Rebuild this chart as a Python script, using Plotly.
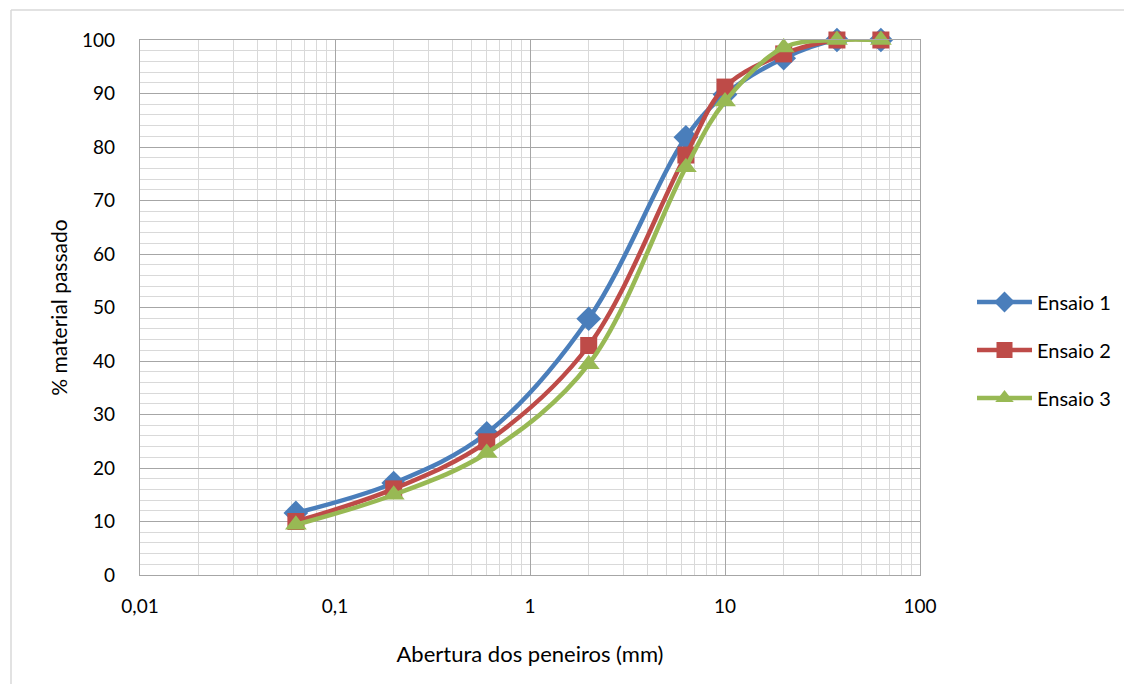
import plotly.graph_objects as go

aberturas = [0.063, 0.2, 0.6, 2.0, 6.3, 10.0, 20.0, 37.5, 63.0]
ensaio1 = [11.6, 17.2, 26.5, 47.9, 81.8, 89.8, 96.6, 100, 100]
ensaio2 = [10.0, 16.1, 24.9, 42.9, 78.5, 91.2, 97.4, 100, 100]
ensaio3 = [9.4, 15.0, 22.8, 39.4, 76.2, 88.5, 98.6, 100, 100]

x_tickvals = [0.01, 0.1, 1, 10, 100]
x_ticktext = ["0,01", "0,1", "1", "10", "100"]

series = [
    ("Ensaio 1", ensaio1, "#4A7EBB", "diamond", 19),
    ("Ensaio 2", ensaio2, "#BE4B48", "square", 17),
    ("Ensaio 3", ensaio3, "#98B954", "triangle-up", 19),
]

FONT = "Lato, Open Sans, sans-serif"

# page body has an 8px margin; compensate so plot area sits at x 140-920, y 40-575
OFF = 8
L, T = 140 - OFF, 40 - OFF
PW, PH = 780, 535
R = 1132 - L - PW
B = 684 - T - PH

fig = go.Figure()
for name, vals, color, sym, size in series:
    fig.add_trace(go.Scatter(
        x=aberturas, y=vals, name=name, mode="lines+markers",
        legendgroup=name, cliponaxis=False,
        line=dict(color=color, width=4.5, shape="spline", smoothing=1.0),
        marker=dict(symbol=sym, size=size, color=color),
    ))

minor_x = [m * 10 ** e for e in range(-2, 2) for m in range(2, 10)]

def px_x(px):
    return (px - OFF - L) / PW

def px_y(py):
    return (T + PH - (py - OFF)) / PH

fig.update_layout(
    width=1132, height=684,
    margin=dict(l=L, r=R, t=T, b=B),
    paper_bgcolor="white", plot_bgcolor="white",
    font=dict(family=FONT, size=20, color="#000000"),
    showlegend=True,
    legend=dict(
        x=px_x(972), xanchor="left", y=px_y(350), yanchor="middle",
        font=dict(family=FONT, size=20, color="#000000"),
        itemwidth=55, tracegroupgap=19, bgcolor="rgba(0,0,0,0)",
    ),
    xaxis=dict(
        type="log", range=[-2, 2],
        tickvals=x_tickvals, ticktext=x_ticktext,
        showgrid=True, gridcolor="#A6A6A6", gridwidth=1.2,
        minor=dict(tickvals=minor_x, showgrid=True, gridcolor="#D9D9D9", gridwidth=1.2, ticks=""),
        showline=True, linecolor="#A6A6A6", linewidth=1.2, mirror=True,
        ticks="", ticklabelstandoff=14,
        tickfont=dict(size=19),
        title=dict(text="Abertura dos peneiros (mm)", standoff=30,
                   font=dict(family=FONT, size=22)),
        zeroline=False,
    ),
    yaxis=dict(
        range=[0, 100], dtick=10,
        showgrid=True, gridcolor="#A6A6A6", gridwidth=1.2,
        minor=dict(dtick=2, showgrid=True, gridcolor="#D9D9D9", gridwidth=1.2, ticks=""),
        showline=True, linecolor="#A6A6A6", linewidth=1.2, mirror=True,
        ticks="", ticklabelstandoff=20,
        tickfont=dict(size=19),
        title=dict(text="% material passado", standoff=8,
                   font=dict(family=FONT, size=21)),
        zeroline=False,
    ),
    shapes=[
        dict(type="line", xref="paper", yref="paper",
             x0=px_x(11), x1=px_x(1140), y0=px_y(10), y1=px_y(10),
             line=dict(color="#D9D9D9", width=1.5)),
        dict(type="line", xref="paper", yref="paper",
             x0=px_x(11), x1=px_x(11), y0=px_y(10), y1=px_y(720),
             line=dict(color="#D9D9D9", width=1.5)),
    ],
)

fig.write_html("out.html")
